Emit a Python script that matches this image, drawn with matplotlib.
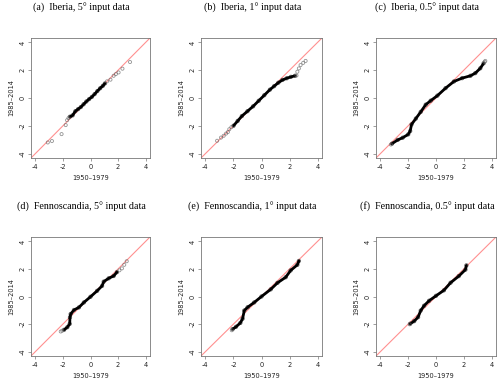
import numpy as np
import matplotlib
matplotlib.use("Agg")
import matplotlib.pyplot as plt

# ── Quantiles (x: 1950-1979, y: 1985-2014) ──────────────────────────────────
# "core" = dense part of each Q-Q curve, "tail" = sparse individual points
a_core_x = [-1.5, -1.3, -1.1, -0.9, -0.7, -0.5, -0.3, -0.1, 0.1, 0.3, 0.5, 0.7, 0.9, 1.05]
a_core_y = [-1.35, -1.25, -0.95, -0.8, -0.65, -0.45, -0.25, -0.08, 0.08, 0.28, 0.5, 0.7, 0.88, 1.05]
a_tail_x = [-3.1, -2.8, -2.1, -1.8, -1.7, -1.6, 1.2, 1.45, 1.68, 1.84, 2.04, 2.32, 2.87]
a_tail_y = [-3.2, -3.1, -2.6, -1.95, -1.6, -1.45, 1.2, 1.32, 1.6, 1.72, 1.84, 2.11, 2.59]

b_core_x = [-2.0, -1.7, -1.4, -1.0, -0.6, -0.2, 0.2, 0.6, 0.9, 1.2, 1.5, 1.8, 2.1, 2.4]
b_core_y = [-2.0, -1.65, -1.3, -0.95, -0.6, -0.2, 0.2, 0.6, 0.85, 1.1, 1.3, 1.42, 1.52, 1.6]
b_tail_x = [-3.17, -2.89, -2.7, -2.53, -2.4, -2.3, -2.15, 2.5, 2.56, 2.67, 2.79, 2.98, 3.15]
b_tail_y = [-3.08, -2.85, -2.72, -2.56, -2.45, -2.25, -2.1, 1.62, 1.89, 2.13, 2.37, 2.53, 2.67]

c_core_x = [-3.17, -2.76, -2.4, -2.0, -1.86, -1.76, -1.45, -1.1, -0.74, -0.38, 0.1, 0.69, 1.29, 1.88, 2.48, 2.83, 3.19, 3.43]
c_core_y = [-3.29, -3.02, -2.86, -2.62, -2.38, -1.9, -1.48, -1.0, -0.48, -0.19, 0.17, 0.71, 1.19, 1.43, 1.6, 1.79, 2.14, 2.5]
c_tail_x = [-3.25, 3.5, 3.55]
c_tail_y = [-3.35, 2.6, 2.67]

d_core_x = [-1.92, -1.68, -1.51, -1.49, -1.44, -1.2, -0.84, -0.48, 0.0, 0.48, 0.84, 0.96, 1.32, 1.68, 1.92]
d_core_y = [-2.42, -2.23, -1.99, -1.51, -1.27, -0.98, -0.79, -0.43, -0.02, 0.41, 0.77, 1.08, 1.32, 1.49, 1.77]
d_tail_x = [-2.16, -2.05, 2.1, 2.28, 2.45, 2.63]
d_tail_y = [-2.54, -2.48, 1.9, 2.04, 2.3, 2.56]

e_core_x = [-2.06, -1.82, -1.51, -1.35, -1.23, -0.99, -0.52, 0.0, 0.66, 1.14, 1.73, 2.08, 2.56, 2.67]
e_core_y = [-2.37, -2.2, -1.92, -1.61, -1.02, -0.78, -0.43, 0.0, 0.52, 0.99, 1.4, 1.89, 2.3, 2.58]
e_tail_x = [-2.12]
e_tail_y = [-2.45]

f_core_x = [-1.86, -1.57, -1.29, -1.1, -0.86, -0.5, 0.0, 0.57, 1.05, 1.64, 2.12, 2.19]
f_core_y = [-1.98, -1.79, -1.5, -1.02, -0.67, -0.31, 0.05, 0.45, 1.0, 1.48, 1.95, 2.26]
f_tail_x = [-1.9]
f_tail_y = [-2.02]

titles = [
    "(a)  Iberia, 5° input data",
    "(b)  Iberia, 1° input data",
    "(c)  Iberia, 0.5° input data",
    "(d)  Fennoscandia, 5° input data",
    "(e)  Fennoscandia, 1° input data",
    "(f)  Fennoscandia, 0.5° input data",
]
panels = [
    (a_core_x, a_core_y, a_tail_x, a_tail_y),
    (b_core_x, b_core_y, b_tail_x, b_tail_y),
    (c_core_x, c_core_y, c_tail_x, c_tail_y),
    (d_core_x, d_core_y, d_tail_x, d_tail_y),
    (e_core_x, e_core_y, e_tail_x, e_tail_y),
    (f_core_x, f_core_y, f_tail_x, f_tail_y),
]
ticks = [-4, -2, 0, 2, 4]

# ── Layout (pixel boxes measured on the 500x383 reference) ──────────────────
W, H = 500, 383
COLS = [(31, 150), (201, 322), (376, 496)]
ROWS = [(38, 158), (237, 356)]
BOX = "#777777"
QQRED = "#ff9090"

fig = plt.figure(figsize=(W / 100, H / 100), dpi=100)
fig.patch.set_facecolor("white")

for i, (title, (cx, cy, tx, ty)) in enumerate(zip(titles, panels)):
    x0, x1 = COLS[i % 3]
    y0, y1 = ROWS[i // 3]
    ax = fig.add_axes([x0 / W, 1 - y1 / H, (x1 - x0) / W, (y1 - y0) / H])
    ax.set_xlim(-4.32, 4.32)
    ax.set_ylim(-4.32, 4.32)

    ax.axline((0, 0), slope=1, color=QQRED, lw=0.8, zorder=1)
    ax.plot(cx, cy, color="black", lw=2.0, solid_capstyle="round", zorder=2)
    ax.scatter(cx, cy, s=6, facecolors="none", edgecolors=(0, 0, 0, 0.6), lw=0.6, zorder=3)
    ax.scatter(tx, ty, s=5, facecolors="none", edgecolors=(0.4, 0.4, 0.4, 0.7), lw=0.6, zorder=3)

    ax.set_xticks(ticks)
    ax.set_yticks(ticks)
    ax.set_xticklabels([str(t) for t in ticks])
    ax.set_yticklabels([str(t) for t in ticks], rotation=90, va="center")
    ax.tick_params(length=2.5, width=0.5, colors=BOX, labelcolor="#222222",
                   labelsize=4.8, pad=1.5)
    for sp in ax.spines.values():
        sp.set_edgecolor(BOX)
        sp.set_linewidth(0.6)
    ax.set_xlabel("1950–1979", fontsize=4.8, color="#222222", labelpad=4)
    ax.set_ylabel("1985–2014", fontsize=4.8, color="#222222", labelpad=4)

    fig.text((x0 + x1) / 2 / W - 9 / W, 1 - (y0 - 30) / H, title,
             family="Liberation Serif", fontsize=7.2, ha="center", va="center")

fig.savefig("out.png", dpi=100)
